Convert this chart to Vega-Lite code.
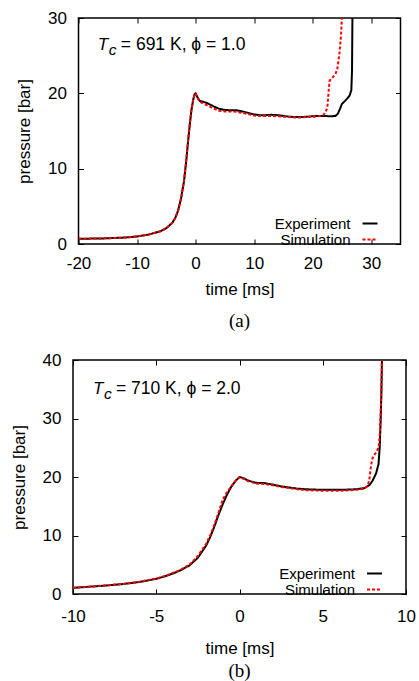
{
  "$schema": "https://vega.github.io/schema/vega-lite/v6.json",
  "padding": {"left": 9, "top": 8, "right": 5, "bottom": 0},
  "background": "white",
  "datasets": {
    "a": [
      {"t": -20, "p": 0.7, "s": "Experiment"}, {"t": -17, "p": 0.72, "s": "Experiment"}, {"t": -15, "p": 0.76, "s": "Experiment"},
      {"t": -12, "p": 0.86, "s": "Experiment"}, {"t": -10, "p": 1.0, "s": "Experiment"}, {"t": -8, "p": 1.25, "s": "Experiment"},
      {"t": -6, "p": 1.7, "s": "Experiment"}, {"t": -5, "p": 2.1, "s": "Experiment"}, {"t": -4, "p": 2.8, "s": "Experiment"},
      {"t": -3.5, "p": 3.4, "s": "Experiment"}, {"t": -3, "p": 4.4, "s": "Experiment"}, {"t": -2.5, "p": 6.0, "s": "Experiment"},
      {"t": -2, "p": 8.2, "s": "Experiment"}, {"t": -1.6, "p": 11.0, "s": "Experiment"}, {"t": -1.3, "p": 13.5, "s": "Experiment"},
      {"t": -1.0, "p": 15.8, "s": "Experiment"}, {"t": -0.7, "p": 17.8, "s": "Experiment"}, {"t": -0.4, "p": 19.2, "s": "Experiment"},
      {"t": -0.15, "p": 19.9, "s": "Experiment"}, {"t": 0, "p": 20.0, "s": "Experiment"}, {"t": 0.3, "p": 19.5, "s": "Experiment"},
      {"t": 0.7, "p": 19.0, "s": "Experiment"}, {"t": 1.2, "p": 18.9, "s": "Experiment"}, {"t": 2, "p": 18.7, "s": "Experiment"},
      {"t": 3, "p": 18.3, "s": "Experiment"}, {"t": 4, "p": 17.95, "s": "Experiment"}, {"t": 5, "p": 17.8, "s": "Experiment"},
      {"t": 6, "p": 17.75, "s": "Experiment"}, {"t": 7, "p": 17.75, "s": "Experiment"}, {"t": 8, "p": 17.6, "s": "Experiment"},
      {"t": 9, "p": 17.4, "s": "Experiment"}, {"t": 10, "p": 17.2, "s": "Experiment"}, {"t": 11, "p": 17.1, "s": "Experiment"},
      {"t": 12, "p": 17.1, "s": "Experiment"}, {"t": 13, "p": 17.15, "s": "Experiment"}, {"t": 14, "p": 17.1, "s": "Experiment"},
      {"t": 15, "p": 17.0, "s": "Experiment"}, {"t": 16, "p": 16.9, "s": "Experiment"}, {"t": 17, "p": 16.85, "s": "Experiment"},
      {"t": 18, "p": 16.85, "s": "Experiment"}, {"t": 19, "p": 16.9, "s": "Experiment"}, {"t": 20, "p": 16.95, "s": "Experiment"},
      {"t": 21, "p": 17.0, "s": "Experiment"}, {"t": 22, "p": 17.0, "s": "Experiment"}, {"t": 23, "p": 16.95, "s": "Experiment"},
      {"t": 23.9, "p": 17.0, "s": "Experiment"}, {"t": 24.3, "p": 17.3, "s": "Experiment"}, {"t": 24.7, "p": 18.0, "s": "Experiment"},
      {"t": 25.0, "p": 18.6, "s": "Experiment"}, {"t": 25.4, "p": 18.9, "s": "Experiment"}, {"t": 25.9, "p": 19.3, "s": "Experiment"},
      {"t": 26.3, "p": 19.7, "s": "Experiment"}, {"t": 26.6, "p": 20.4, "s": "Experiment"}, {"t": 26.72, "p": 23, "s": "Experiment"},
      {"t": 26.8, "p": 31, "s": "Experiment"},
      {"t": -20, "p": 0.7, "s": "Simulation"}, {"t": -17, "p": 0.72, "s": "Simulation"}, {"t": -15, "p": 0.76, "s": "Simulation"},
      {"t": -12, "p": 0.86, "s": "Simulation"}, {"t": -10, "p": 1.0, "s": "Simulation"}, {"t": -8, "p": 1.25, "s": "Simulation"},
      {"t": -6, "p": 1.7, "s": "Simulation"}, {"t": -5, "p": 2.1, "s": "Simulation"}, {"t": -4, "p": 2.8, "s": "Simulation"},
      {"t": -3.5, "p": 3.4, "s": "Simulation"}, {"t": -3, "p": 4.4, "s": "Simulation"}, {"t": -2.5, "p": 6.0, "s": "Simulation"},
      {"t": -2, "p": 8.3, "s": "Simulation"}, {"t": -1.6, "p": 11.1, "s": "Simulation"}, {"t": -1.3, "p": 13.6, "s": "Simulation"},
      {"t": -1.0, "p": 15.9, "s": "Simulation"}, {"t": -0.7, "p": 17.9, "s": "Simulation"}, {"t": -0.4, "p": 19.2, "s": "Simulation"},
      {"t": -0.15, "p": 19.9, "s": "Simulation"}, {"t": 0, "p": 20.0, "s": "Simulation"}, {"t": 0.3, "p": 19.4, "s": "Simulation"},
      {"t": 0.7, "p": 18.9, "s": "Simulation"}, {"t": 1.2, "p": 18.7, "s": "Simulation"}, {"t": 2, "p": 18.4, "s": "Simulation"},
      {"t": 3, "p": 18.0, "s": "Simulation"}, {"t": 4, "p": 17.7, "s": "Simulation"}, {"t": 5, "p": 17.6, "s": "Simulation"},
      {"t": 6, "p": 17.6, "s": "Simulation"}, {"t": 7, "p": 17.55, "s": "Simulation"}, {"t": 8, "p": 17.4, "s": "Simulation"},
      {"t": 9, "p": 17.25, "s": "Simulation"}, {"t": 10, "p": 17.05, "s": "Simulation"}, {"t": 11, "p": 17.0, "s": "Simulation"},
      {"t": 12, "p": 17.0, "s": "Simulation"}, {"t": 13, "p": 17.0, "s": "Simulation"}, {"t": 14, "p": 16.95, "s": "Simulation"},
      {"t": 15, "p": 16.9, "s": "Simulation"}, {"t": 16, "p": 16.85, "s": "Simulation"}, {"t": 17, "p": 16.8, "s": "Simulation"},
      {"t": 18, "p": 16.8, "s": "Simulation"}, {"t": 19, "p": 16.85, "s": "Simulation"}, {"t": 20, "p": 16.9, "s": "Simulation"},
      {"t": 21, "p": 16.95, "s": "Simulation"}, {"t": 21.8, "p": 17.1, "s": "Simulation"}, {"t": 22.2, "p": 17.5, "s": "Simulation"},
      {"t": 22.5, "p": 18.1, "s": "Simulation"}, {"t": 22.75, "p": 20.5, "s": "Simulation"}, {"t": 22.9, "p": 21.7, "s": "Simulation"},
      {"t": 23.4, "p": 22.1, "s": "Simulation"}, {"t": 23.9, "p": 22.6, "s": "Simulation"}, {"t": 24.2, "p": 23.2, "s": "Simulation"},
      {"t": 24.4, "p": 24.3, "s": "Simulation"}, {"t": 24.6, "p": 25.5, "s": "Simulation"}, {"t": 24.85, "p": 27.8, "s": "Simulation"},
      {"t": 25.05, "p": 31, "s": "Simulation"}
    ],
    "b": [
      {"t": -10, "p": 1.05, "s": "Experiment"}, {"t": -9, "p": 1.25, "s": "Experiment"}, {"t": -8, "p": 1.45, "s": "Experiment"},
      {"t": -7, "p": 1.7, "s": "Experiment"}, {"t": -6, "p": 2.05, "s": "Experiment"}, {"t": -5, "p": 2.6, "s": "Experiment"},
      {"t": -4.5, "p": 3.0, "s": "Experiment"}, {"t": -4, "p": 3.5, "s": "Experiment"}, {"t": -3.5, "p": 4.1, "s": "Experiment"},
      {"t": -3, "p": 4.9, "s": "Experiment"}, {"t": -2.5, "p": 6.2, "s": "Experiment"}, {"t": -2, "p": 8.3, "s": "Experiment"},
      {"t": -1.75, "p": 9.8, "s": "Experiment"}, {"t": -1.5, "p": 11.6, "s": "Experiment"}, {"t": -1.25, "p": 13.6, "s": "Experiment"},
      {"t": -1, "p": 15.4, "s": "Experiment"}, {"t": -0.75, "p": 17.0, "s": "Experiment"}, {"t": -0.5, "p": 18.3, "s": "Experiment"},
      {"t": -0.25, "p": 19.3, "s": "Experiment"}, {"t": 0, "p": 20.0, "s": "Experiment"}, {"t": 0.25, "p": 19.8, "s": "Experiment"},
      {"t": 0.5, "p": 19.4, "s": "Experiment"}, {"t": 1, "p": 19.0, "s": "Experiment"}, {"t": 1.5, "p": 18.95, "s": "Experiment"},
      {"t": 2, "p": 18.7, "s": "Experiment"}, {"t": 2.5, "p": 18.4, "s": "Experiment"}, {"t": 3, "p": 18.2, "s": "Experiment"},
      {"t": 3.5, "p": 18.0, "s": "Experiment"}, {"t": 4, "p": 17.9, "s": "Experiment"}, {"t": 5, "p": 17.8, "s": "Experiment"},
      {"t": 6, "p": 17.8, "s": "Experiment"}, {"t": 7, "p": 17.9, "s": "Experiment"}, {"t": 7.5, "p": 18.1, "s": "Experiment"},
      {"t": 7.8, "p": 18.6, "s": "Experiment"}, {"t": 8.0, "p": 19.4, "s": "Experiment"}, {"t": 8.2, "p": 20.6, "s": "Experiment"},
      {"t": 8.35, "p": 22.2, "s": "Experiment"}, {"t": 8.42, "p": 25, "s": "Experiment"}, {"t": 8.47, "p": 29, "s": "Experiment"},
      {"t": 8.52, "p": 34, "s": "Experiment"}, {"t": 8.56, "p": 41, "s": "Experiment"},
      {"t": -10, "p": 1.05, "s": "Simulation"}, {"t": -9, "p": 1.25, "s": "Simulation"}, {"t": -8, "p": 1.47, "s": "Simulation"},
      {"t": -7, "p": 1.72, "s": "Simulation"}, {"t": -6, "p": 2.1, "s": "Simulation"}, {"t": -5, "p": 2.65, "s": "Simulation"},
      {"t": -4.5, "p": 3.05, "s": "Simulation"}, {"t": -4, "p": 3.6, "s": "Simulation"}, {"t": -3.5, "p": 4.2, "s": "Simulation"},
      {"t": -3, "p": 5.0, "s": "Simulation"}, {"t": -2.5, "p": 6.5, "s": "Simulation"}, {"t": -2, "p": 8.6, "s": "Simulation"},
      {"t": -1.75, "p": 10.1, "s": "Simulation"}, {"t": -1.5, "p": 11.9, "s": "Simulation"}, {"t": -1.25, "p": 14.0, "s": "Simulation"},
      {"t": -1, "p": 16.2, "s": "Simulation"}, {"t": -0.75, "p": 17.4, "s": "Simulation"}, {"t": -0.5, "p": 18.4, "s": "Simulation"},
      {"t": -0.25, "p": 19.3, "s": "Simulation"}, {"t": 0, "p": 19.95, "s": "Simulation"}, {"t": 0.25, "p": 19.7, "s": "Simulation"},
      {"t": 0.5, "p": 19.3, "s": "Simulation"}, {"t": 1, "p": 18.9, "s": "Simulation"}, {"t": 1.5, "p": 18.8, "s": "Simulation"},
      {"t": 2, "p": 18.6, "s": "Simulation"}, {"t": 2.5, "p": 18.3, "s": "Simulation"}, {"t": 3, "p": 18.1, "s": "Simulation"},
      {"t": 3.5, "p": 17.9, "s": "Simulation"}, {"t": 4, "p": 17.75, "s": "Simulation"}, {"t": 5, "p": 17.65, "s": "Simulation"},
      {"t": 6, "p": 17.65, "s": "Simulation"}, {"t": 7, "p": 17.8, "s": "Simulation"}, {"t": 7.5, "p": 18.0, "s": "Simulation"},
      {"t": 7.7, "p": 18.5, "s": "Simulation"}, {"t": 7.8, "p": 19.6, "s": "Simulation"}, {"t": 7.9, "p": 22.0, "s": "Simulation"},
      {"t": 8.0, "p": 23.3, "s": "Simulation"}, {"t": 8.2, "p": 24.2, "s": "Simulation"}, {"t": 8.35, "p": 25.0, "s": "Simulation"},
      {"t": 8.42, "p": 27, "s": "Simulation"}, {"t": 8.48, "p": 31, "s": "Simulation"}, {"t": 8.52, "p": 35, "s": "Simulation"},
      {"t": 8.56, "p": 41, "s": "Simulation"}
    ]
  },
  "bounds": "flush",
  "center": true,
  "spacing": 116,
  "vconcat": [
    {
      "width": 322,
      "height": 226,
      "title": {"text": "(a)", "orient": "bottom", "font": "Liberation Serif", "fontSize": 19, "fontWeight": "normal", "color": "black", "offset": 15},
      "layer": [
        {
          "data": {"name": "a"},
          "mark": {"type": "line", "clip": true, "strokeWidth": 2},
          "encoding": {
            "x": {"field": "t", "type": "quantitative", "scale": {"domain": [-20, 35], "nice": false}, "axis": {"title": "time [ms]", "values": [-20, -10, 0, 10, 20, 30]}},
            "y": {"field": "p", "type": "quantitative", "scale": {"domain": [0, 30], "nice": false}, "axis": {"title": "pressure [bar]", "values": [0, 10, 20, 30]}},
            "color": {"field": "s", "type": "nominal", "scale": {"domain": ["Experiment", "Simulation"], "range": ["black", "#ff0000"]}, "legend": {"orient": "none", "legendX": 284, "legendY": 198}},
            "strokeDash": {"field": "s", "type": "nominal", "scale": {"domain": ["Experiment", "Simulation"], "range": [[1, 0], [3, 2]]}, "legend": {"orient": "none", "legendX": 284, "legendY": 198}}
          }
        },
        {
          "data": {"values": [{}]},
          "mark": {"type": "text", "text": "T", "font": "Liberation Sans", "fontStyle": "italic", "fontSize": 17, "align": "left", "baseline": "alphabetic"},
          "encoding": {
            "x": {"datum": -16.7, "type": "quantitative", "axis": {"orient": "top", "labels": false, "title": null, "values": [-20, -10, 0, 10, 20, 30]}},
            "y": {"datum": 25.7, "type": "quantitative", "axis": {"orient": "right", "labels": false, "title": null, "values": [0, 10, 20, 30]}}
          }
        },
        {
          "data": {"values": [{}]},
          "mark": {"type": "text", "text": "c", "font": "Liberation Sans", "fontStyle": "italic", "fontSize": 15.5, "align": "left", "baseline": "alphabetic", "dx": 11, "dy": 5},
          "encoding": {
            "x": {"datum": -16.7, "type": "quantitative", "axis": null},
            "y": {"datum": 25.7, "type": "quantitative", "axis": null}
          }
        },
        {
          "data": {"values": [{}]},
          "mark": {"type": "text", "text": "= 691 K, ϕ = 1.0", "font": "Liberation Sans", "fontSize": 17.5, "align": "left", "baseline": "alphabetic", "dx": 23},
          "encoding": {
            "x": {"datum": -16.7, "type": "quantitative", "axis": null},
            "y": {"datum": 25.7, "type": "quantitative", "axis": null}
          }
        }
      ],
      "resolve": {"axis": {"x": "independent", "y": "independent"}}
    },
    {
      "width": 333,
      "height": 234,
      "title": {"text": "(b)", "orient": "bottom", "font": "Liberation Serif", "fontSize": 19, "fontWeight": "normal", "color": "black", "offset": 6},
      "layer": [
        {
          "data": {"name": "b"},
          "mark": {"type": "line", "clip": true, "strokeWidth": 2},
          "encoding": {
            "x": {"field": "t", "type": "quantitative", "scale": {"domain": [-10, 10], "nice": false}, "axis": {"title": "time [ms]", "values": [-10, -5, 0, 5, 10], "labelPadding": 19, "titlePadding": 16}},
            "y": {"field": "p", "type": "quantitative", "scale": {"domain": [0, 40], "nice": false}, "axis": {"title": "pressure [bar]", "values": [0, 10, 20, 30, 40]}},
            "color": {"field": "s", "type": "nominal", "scale": {"domain": ["Experiment", "Simulation"], "range": ["black", "#ff0000"]}, "legend": {"orient": "none", "legendX": 294, "legendY": 206}},
            "strokeDash": {"field": "s", "type": "nominal", "scale": {"domain": ["Experiment", "Simulation"], "range": [[1, 0], [3, 2]]}, "legend": {"orient": "none", "legendX": 294, "legendY": 206}}
          }
        },
        {
          "data": {"values": [{}]},
          "mark": {"type": "text", "text": "T", "font": "Liberation Sans", "fontStyle": "italic", "fontSize": 17, "align": "left", "baseline": "alphabetic"},
          "encoding": {
            "x": {"datum": -8.8, "type": "quantitative", "axis": {"orient": "top", "labels": false, "title": null, "values": [-10, -5, 0, 5, 10]}},
            "y": {"datum": 34.2, "type": "quantitative", "axis": {"orient": "right", "labels": false, "title": null, "values": [0, 10, 20, 30, 40]}}
          }
        },
        {
          "data": {"values": [{}]},
          "mark": {"type": "text", "text": "c", "font": "Liberation Sans", "fontStyle": "italic", "fontSize": 15.5, "align": "left", "baseline": "alphabetic", "dx": 11, "dy": 5},
          "encoding": {
            "x": {"datum": -8.8, "type": "quantitative", "axis": null},
            "y": {"datum": 34.2, "type": "quantitative", "axis": null}
          }
        },
        {
          "data": {"values": [{}]},
          "mark": {"type": "text", "text": "= 710 K, ϕ = 2.0", "font": "Liberation Sans", "fontSize": 17.5, "align": "left", "baseline": "alphabetic", "dx": 23},
          "encoding": {
            "x": {"datum": -8.8, "type": "quantitative", "axis": null},
            "y": {"datum": 34.2, "type": "quantitative", "axis": null}
          }
        }
      ],
      "resolve": {"axis": {"x": "independent", "y": "independent"}}
    }
  ],
  "resolve": {"scale": {"color": "independent", "strokeDash": "independent"}, "legend": {"color": "independent", "strokeDash": "independent"}},
  "config": {
    "view": {"stroke": "black", "strokeWidth": 1.5},
    "axis": {
      "domain": false, "grid": false, "labelFlush": false, "labelExpr": "'' + datum.value",
      "tickSize": -5, "tickColor": "black", "tickWidth": 1,
      "labelFont": "Liberation Sans", "labelFontSize": 17, "labelColor": "black", "labelPadding": 16,
      "titleFont": "Liberation Sans", "titleFontSize": 17, "titleFontWeight": "normal", "titleColor": "black", "titlePadding": 10
    },
    "axisY": {"titlePadding": 14, "labelPadding": 17},
    "legend": {
      "symbolType": "M-2,0L2,0", "symbolSize": 56, "symbolStrokeWidth": 2,
      "labelFont": "Liberation Sans", "labelFontSize": 15, "labelColor": "black",
      "labelAlign": "right", "labelOffset": -27, "rowPadding": -5, "title": null, "padding": 0,
      "labelExpr": "datum.label === 'Simulation' ? '\u2009\u2009Simulation' : datum.label"
    }
  }
}
